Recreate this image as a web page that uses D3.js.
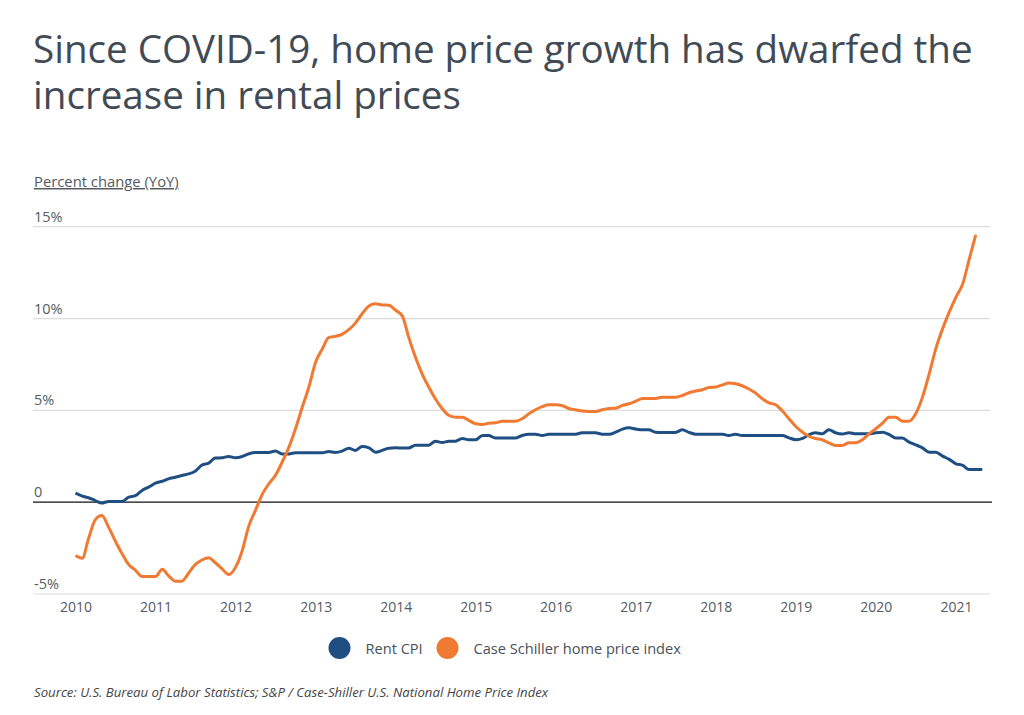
<!DOCTYPE html>
<html>
<head>
<meta charset="utf-8">
<script src="https://cdn.jsdelivr.net/npm/d3@7"></script>
<style>
  html, body { margin: 0; padding: 0; background: #fff; }
  #wrap { position: relative; width: 1024px; height: 715px; }
  svg { display: block; font-family: "Open Sans", sans-serif; }
  #title { position: absolute; left: 33px; top: 25px; margin: 0;
           font-family: "Open Sans", sans-serif; font-weight: 400;
           font-size: 38.6px; line-height: 46px; color: #414b56; white-space: nowrap; }
</style>
</head>
<body>
<div id="wrap">
<svg id="chart" width="1024" height="715"></svg>
<div id="title"></div>
</div>
<script>
const titleLines = ["Since COVID-19, home price growth has dwarfed the", "increase in rental prices"];
const yAxisTitle = "Percent change (YoY)";
const sourceText = "Source:  U.S. Bureau of Labor Statistics; S&P / Case-Shiller U.S. National Home Price Index";
const seriesNames = ["Rent CPI", "Case Schiller home price index"];
const seriesColors = ["#1f4f82", "#f07a32"];
const yTicks = [-5, 0, 5, 10, 15];
const yTickLabels = ["-5%", "0", "5%", "10%", "15%"];
const xTickYears = [2010, 2011, 2012, 2013, 2014, 2015, 2016, 2017, 2018, 2019, 2020, 2021];
const startYear = 2010, startMonth = 0;

// Rent CPI, monthly YoY %, Jan 2010 - May 2021
const rentCPI = [
  0.49, 0.33, 0.24, 0.09, -0.05, 0.04, 0.04, 0.04, 0.27, 0.36, 0.64, 0.82,
  1.04, 1.14, 1.27, 1.36, 1.45, 1.54, 1.69, 2.02, 2.13, 2.40, 2.42, 2.49,
  2.42, 2.49, 2.63, 2.71, 2.71, 2.71, 2.78, 2.63, 2.63, 2.69, 2.69, 2.69,
  2.69, 2.69, 2.76, 2.71, 2.78, 2.94, 2.82, 3.03, 2.96, 2.72, 2.82, 2.94,
  2.96, 2.95, 2.95, 3.10, 3.10, 3.10, 3.32, 3.25, 3.32, 3.32, 3.47, 3.40,
  3.40, 3.63, 3.63, 3.49, 3.49, 3.49, 3.49, 3.63, 3.70, 3.70, 3.63, 3.70,
  3.70, 3.70, 3.70, 3.70, 3.78, 3.78, 3.78, 3.70, 3.70, 3.81, 3.98, 4.05,
  3.98, 3.94, 3.94, 3.81, 3.80, 3.80, 3.80, 3.94, 3.80, 3.70, 3.70, 3.70,
  3.70, 3.70, 3.63, 3.70, 3.63, 3.63, 3.63, 3.63, 3.63, 3.63, 3.63, 3.50,
  3.40, 3.47, 3.67, 3.78, 3.72, 3.94, 3.78, 3.71, 3.78, 3.72, 3.72, 3.72,
  3.78, 3.81, 3.69, 3.49, 3.49, 3.27, 3.12, 2.96, 2.72, 2.72, 2.51, 2.33,
  2.09, 2.00, 1.78, 1.78, 1.78
];

// Case-Shiller national home price index, monthly YoY %, Jan 2010 - Apr 2021
const caseShiller = [
  -2.90, -3.05, -2.00, -0.96, -0.73, -1.36, -2.10, -2.80, -3.40, -3.70, -4.05, -4.05,
  -4.05, -3.65, -4.00, -4.30, -4.30, -3.87, -3.40, -3.15, -3.03, -3.30, -3.63, -3.94,
  -3.55, -2.63, -1.33, -0.45, 0.40, 1.00, 1.45, 2.18, 3.00, 4.00, 5.18, 6.27,
  7.63, 8.36, 8.96, 9.03, 9.14, 9.39, 9.75, 10.26, 10.68, 10.80, 10.74, 10.72,
  10.45, 10.12, 9.00, 7.90, 7.00, 6.27, 5.63, 5.10, 4.72, 4.63, 4.63, 4.45,
  4.27, 4.23, 4.30, 4.32, 4.40, 4.41, 4.41, 4.54, 4.81, 5.03, 5.20, 5.30,
  5.30, 5.25, 5.10, 5.03, 4.96, 4.94, 4.94, 5.03, 5.10, 5.12, 5.27, 5.36,
  5.50, 5.65, 5.65, 5.65, 5.72, 5.72, 5.72, 5.81, 5.96, 6.05, 6.12, 6.25,
  6.27, 6.39, 6.49, 6.45, 6.34, 6.16, 5.94, 5.63, 5.41, 5.30, 4.96, 4.54,
  4.12, 3.81, 3.59, 3.47, 3.40, 3.23, 3.09, 3.09, 3.23, 3.23, 3.40, 3.72,
  4.00, 4.30, 4.63, 4.63, 4.41, 4.41, 4.81, 5.72, 7.00, 8.36, 9.45, 10.35,
  11.17, 11.90, 13.17, 14.55
];

const svg = d3.select("#chart");
const axisColor = "#555b61";

// Title (HTML block, two lines, 46px line height)
d3.select("#title").selectAll("div").data(titleLines).join("div").text(d => d);

// Axis title (underlined)
svg.append("text")
  .attr("x", 34).attr("y", 187)
  .attr("font-size", 14.8).attr("fill", axisColor)
  .attr("text-decoration", "underline")
  .text(yAxisTitle);

const x = d3.scaleTime()
  .domain([new Date(2010, 0, 1), new Date(2021, 0, 1)])
  .range([75.5, 956]);
const y = d3.scaleLinear().domain([-5, 15]).range([594, 226.7]);

// Gridlines
svg.append("g").selectAll("line").data(yTicks.filter(d => d !== 0)).join("line")
  .attr("x1", 33).attr("x2", 990)
  .attr("y1", d => y(d)).attr("y2", d => y(d))
  .attr("stroke", "#dcdcdc").attr("stroke-width", 1.2);

// Y tick labels
svg.append("g").selectAll("text").data(yTicks).join("text")
  .attr("x", 34).attr("y", d => y(d) - 5)
  .attr("font-size", 14.5).attr("fill", axisColor)
  .text(d => yTickLabels[yTicks.indexOf(d)]);

// X axis labels
const xAxis = d3.axisBottom(x)
  .tickValues(xTickYears.map(yr => new Date(yr, 0, 1)))
  .tickFormat(d3.timeFormat("%Y"))
  .tickSize(0).tickPadding(0);
const gx = svg.append("g").attr("transform", `translate(0, 600)`).call(xAxis);
gx.select(".domain").remove();
gx.selectAll("text").attr("font-size", 14).attr("fill", axisColor)
  .attr("font-family", "Open Sans, sans-serif").attr("dy", "0.85em");

const toDate = i => new Date(startYear, startMonth + i, 1);
const line = d3.line().x((d, i) => x(toDate(i))).y(d => y(d)).curve(d3.curveMonotoneX);

// Zero line
svg.append("line")
  .attr("x1", 33).attr("x2", 992)
  .attr("y1", y(0)).attr("y2", y(0))
  .attr("stroke", "#111").attr("stroke-width", 1.2);

svg.append("path").datum(rentCPI)
  .attr("d", line).attr("fill", "none")
  .attr("stroke", seriesColors[0]).attr("stroke-width", 3)
  .attr("stroke-linejoin", "round");

svg.append("path").datum(caseShiller)
  .attr("d", line).attr("fill", "none")
  .attr("stroke", seriesColors[1]).attr("stroke-width", 3)
  .attr("stroke-linejoin", "round");

// Legend
const legendItems = [
  { name: seriesNames[0], color: seriesColors[0], cx: 339.5 },
  { name: seriesNames[1], color: seriesColors[1], cx: 447.5 }
];
const lg = svg.append("g");
legendItems.forEach(it => {
  lg.append("circle").attr("cx", it.cx).attr("cy", 648).attr("r", 11).attr("fill", it.color);
  lg.append("text").attr("x", it.cx + 26).attr("y", 654)
    .attr("font-size", 14.6).attr("fill", "#4a5158").text(it.name);
});

// Source
svg.append("text")
  .attr("x", 34).attr("y", 697)
  .attr("font-size", 13.2).attr("font-style", "italic").attr("fill", "#444")
  .text(sourceText);
</script>
</body>
</html>
